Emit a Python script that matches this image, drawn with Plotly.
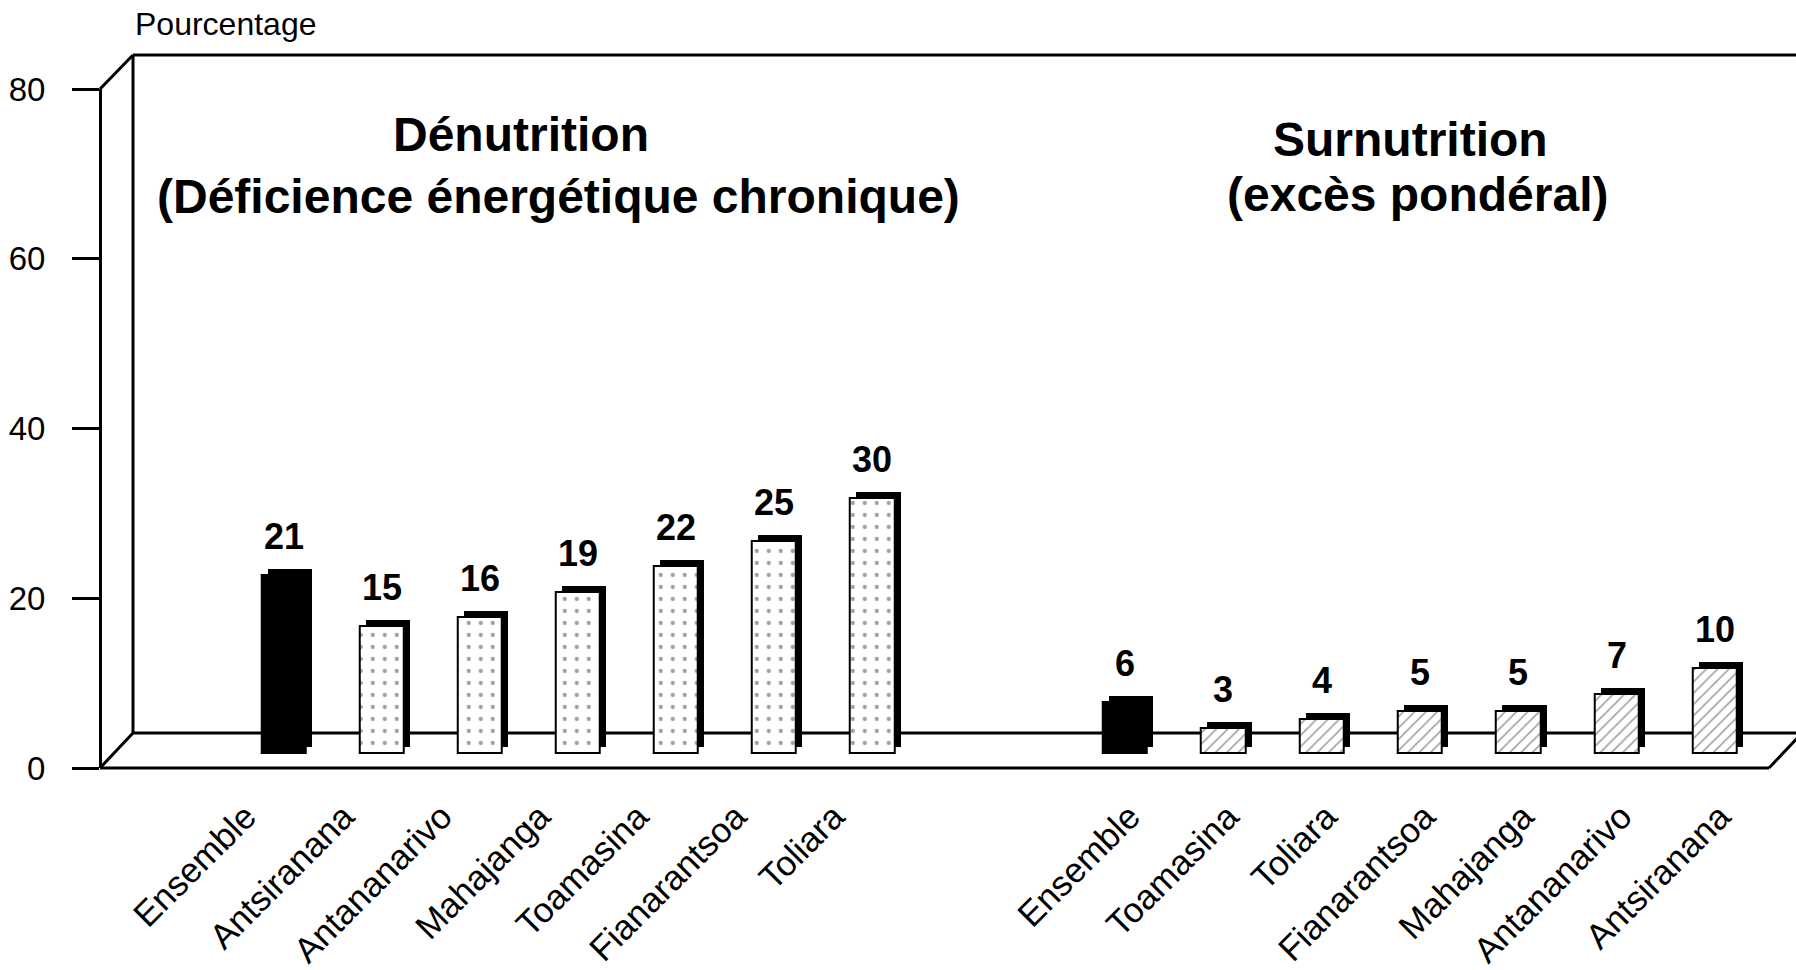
import plotly.graph_objects as go

# ---------------- data ----------------
denut_cats = ["Ensemble", "Antsiranana", "Antananarivo", "Mahajanga",
              "Toamasina", "Fianarantsoa", "Toliara"]
denut_vals = [21, 15, 16, 19, 22, 25, 30]

surnut_cats = ["Ensemble", "Toamasina", "Toliara", "Fianarantsoa",
               "Mahajanga", "Antananarivo", "Antsiranana"]
surnut_vals = [6, 3, 4, 5, 5, 7, 10]

y_ticks = [0, 20, 40, 60, 80]
title_denut = ["Dénutrition", "(Déficience énergétique chronique)"]
title_surnut = ["Surnutrition", "(excès pondéral)"]
y_title = "Pourcentage"

# ---------------- layout geometry ----------------
W, H = 1796, 970
ML, MR, MT, MB = 100, 27, 89, 202
PW, PH = W - ML - MR, H - MT - MB
YMAX = 80
PX_PER_UNIT = PH / YMAX
DX, DY = 33, 35          # depth of the back wall (px)
FLOOR_PX = 15            # bars stand this far behind the front edge
FLOOR = FLOOR_PX / PX_PER_UNIT
BW = 0.45                # bar width (category units)
SLOT_PX = 98.5
SH = 6                   # bar 3-D extrusion (px)

FONT = "Liberation Sans, Arial, sans-serif"


def fx(px):
    return (px - ML) / PW


def fy(py):
    return (H - MB - py) / PH


fig = go.Figure()


def add_group(cats, vals, pattern, xaxis):
    # extrusion (drawn behind)
    fig.add_trace(go.Bar(
        x=cats, y=vals, base=[FLOOR + SH / PX_PER_UNIT] * len(vals),
        width=BW, offset=-BW / 2 + SH / SLOT_PX,
        marker=dict(color="black", line=dict(width=0)),
        xaxis=xaxis, yaxis="y", hoverinfo="skip", showlegend=False))
    colors = ["black"] + ["white"] * (len(vals) - 1)
    shapes = [""] + [pattern] * (len(vals) - 1)
    fig.add_trace(go.Bar(
        x=cats, y=vals, base=[FLOOR] * len(vals),
        width=BW, offset=-BW / 2,
        marker=dict(color=colors,
                    line=dict(color="black", width=2),
                    pattern=dict(shape=shapes, fgcolor="black",
                                 fillmode="overlay",
                                 size=8 if pattern == "/" else 12,
                                 solidity=0.2 if pattern == "/" else 0.1)),
        xaxis=xaxis, yaxis="y", showlegend=False,
        hovertemplate="%{x}: %{y}<extra></extra>"))
    for c, v in zip(cats, vals):
        fig.add_annotation(x=c, y=FLOOR + v, xref=xaxis, yref="y",
                           text=f"<b>{v}</b>", showarrow=False,
                           yanchor="bottom", yshift=16,
                           font=dict(size=36, color="black", family=FONT))


add_group(denut_cats, denut_vals, ".", "x")
add_group(surnut_cats, surnut_vals, "/", "x2")

# ---------------- 3-D frame ----------------
lw = 3
frame = [
    ((ML, H - MB), (ML + DX, H - MB - DY)),          # bottom-left diagonal
    ((ML, MT), (ML + DX, MT - DY + 1)),              # top-left diagonal
    ((ML + DX, H - MB - DY), (ML + DX, MT - DY + 1)),  # back vertical
    ((ML + DX, MT - DY + 1), (W + 20, MT - DY + 1)),   # back top
    ((ML + DX, H - MB - DY), (W + 20, H - MB - DY)),   # back floor
    ((ML, H - MB), (W - MR, H - MB)),                # front baseline
    ((W - MR, H - MB), (W - MR + DX, H - MB - DY)),  # right diagonal
]
for (x0, y0), (x1, y1) in frame:
    fig.add_shape(type="line", xref="paper", yref="paper",
                  x0=fx(x0), y0=fy(y0), x1=fx(x1), y1=fy(y1),
                  line=dict(color="black", width=lw), layer="below")

# ---------------- titles ----------------
for txt, cx, base in [(title_denut[0], 521, 152), (title_denut[1], 558, 214),
                      (title_surnut[0], 1410, 157), (title_surnut[1], 1417, 212)]:
    fig.add_annotation(x=fx(cx), y=fy(base + 11), xref="paper", yref="paper",
                       text=f"<b>{txt}</b>", showarrow=False,
                       xanchor="center", yanchor="bottom",
                       font=dict(size=48, color="black", family=FONT))

fig.add_annotation(x=fx(135), y=fy(44), xref="paper", yref="paper",
                   text=y_title, showarrow=False, xanchor="left",
                   yanchor="bottom", xshift=-2,
                   font=dict(size=32, color="black", family=FONT))

# ---------------- axes ----------------
left_c = [284, 872]
right_c = [1125, 1715]
half = SLOT_PX / 2
xcommon = dict(type="category", showline=False, showgrid=False,
               zeroline=False, ticks="", tickangle=-45,
               tickfont=dict(size=35, color="black", family=FONT),
               range=[-0.5, 6.5], fixedrange=True, anchor="y",
               ticklabelstandoff=20, automargin=False)
fig.update_layout(
    width=W, height=H,
    margin=dict(l=ML, r=MR, t=MT, b=MB),
    paper_bgcolor="white", plot_bgcolor="rgba(0,0,0,0)",
    font=dict(family=FONT, color="black"),
    barmode="overlay", bargap=0,
    xaxis=dict(**xcommon, domain=[fx(left_c[0] - half), fx(left_c[1] + half)],
               ticklabelshift=-38),
    xaxis2=dict(**xcommon, domain=[fx(right_c[0] - half), fx(right_c[1] + half)],
                ticklabelshift=5),
    yaxis=dict(range=[0, YMAX], tickvals=y_ticks, showgrid=False,
               zeroline=False, showline=True, linecolor="black", linewidth=3,
               ticks="outside", ticklen=27, tickwidth=3, tickcolor="black",
               tickfont=dict(size=33, color="black", family=FONT),
               ticklabelstandoff=20, fixedrange=True, automargin=False,
               anchor="free", position=0),
    showlegend=False,
)

fig.write_html("out.html",
               config={"displayModeBar": False},
               post_script="document.body.style.margin='0px';"
                           "document.body.style.overflow='hidden';")
